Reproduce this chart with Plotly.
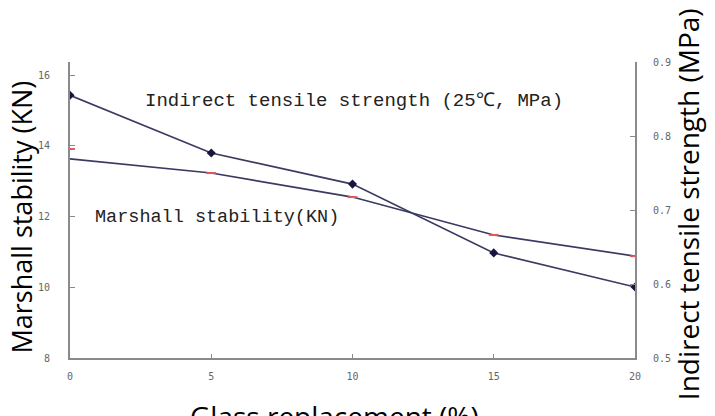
import plotly.graph_objects as go

glass_replacement = [0, 5, 10, 15, 20]
marshall_points = [13.91, 13.23, 12.55, 11.48, 10.88]
marshall_line = [13.63, 13.23, 12.55, 11.48, 10.88]
tensile_strength = [0.855, 0.777, 0.735, 0.642, 0.596]

left_ticks = [8, 10, 12, 14, 16]
right_ticks = [0.5, 0.6, 0.7, 0.8, 0.9]
x_ticks = [0, 5, 10, 15, 20]

line_color = "#3a3a62"

fig = go.Figure()
fig.add_trace(go.Scatter(x=glass_replacement, y=marshall_line, mode="lines",
                         line=dict(color=line_color, width=1.6), yaxis="y", showlegend=False))
fig.add_trace(go.Scatter(x=glass_replacement, y=marshall_points, mode="markers",
                         marker=dict(symbol="line-ew", size=7, line=dict(color="#e05a5a", width=2)),
                         yaxis="y", showlegend=False))
fig.add_trace(go.Scatter(x=glass_replacement, y=tensile_strength, mode="lines+markers",
                         line=dict(color=line_color, width=1.6),
                         marker=dict(symbol="diamond", size=7, color="#15153f"),
                         yaxis="y2", showlegend=False))

tick_font = dict(family="DejaVu Sans Mono", size=10, color="#666666")
fig.update_layout(
    width=715, height=416,
    margin=dict(l=62, r=88, t=54, b=66),
    paper_bgcolor="white", plot_bgcolor="white",
    xaxis=dict(range=[0, 20], tickvals=x_ticks, showgrid=False, zeroline=False,
               showline=True, linecolor="#8a8a8a", linewidth=2,
               ticks="inside", ticklen=4, tickcolor="#8a8a8a",
               tickfont=tick_font, ticklabelstandoff=8),
    yaxis=dict(range=[8, 16.37], tickvals=left_ticks, showgrid=False, zeroline=False,
               showline=True, linecolor="#8a8a8a", linewidth=2,
               ticks="inside", ticklen=5, tickcolor="#8a8a8a",
               tickfont=tick_font, ticklabelstandoff=16),
    yaxis2=dict(range=[0.5, 0.9], tickvals=right_ticks, overlaying="y", side="right",
                showgrid=False, zeroline=False, tickformat=".1f",
                showline=True, linecolor="#8a8a8a", linewidth=2,
                ticks="inside", ticklen=5, tickcolor="#8a8a8a",
                tickfont=tick_font, ticklabelstandoff=14),
)

title_font = dict(family="Open Sans", size=28, color="black")
fig.add_annotation(text="Marshall stability (KN)", xref="paper", yref="paper",
                   x=-0.086, y=0.476, textangle=-90, showarrow=False,
                   font=dict(family="Open Sans", size=27, color="black"),
                   xanchor="center", yanchor="middle")
fig.add_annotation(text="Indirect tensile strength (MPa)", xref="paper", yref="paper",
                   x=1.094, y=0.52, textangle=-90, showarrow=False, font=title_font,
                   xanchor="center", yanchor="middle")
fig.add_annotation(text="Glass replacement (%)", xref="paper", yref="paper",
                   x=0.469, y=-0.196, showarrow=False, font=title_font,
                   xanchor="center", yanchor="middle")
fig.add_annotation(text="Indirect tensile strength (25℃, MPa)", xref="paper", yref="paper",
                   x=0.129, y=0.868, showarrow=False,
                   font=dict(family="Liberation Mono", size=19, color="#222222"),
                   xanchor="left", yanchor="middle")
fig.add_annotation(text="Marshall stability(KN)", xref="paper", yref="paper",
                   x=0.041, y=0.473, showarrow=False,
                   font=dict(family="Liberation Mono", size=18.5, color="#222222"),
                   xanchor="left", yanchor="middle")

fig.write_html("out.html")
